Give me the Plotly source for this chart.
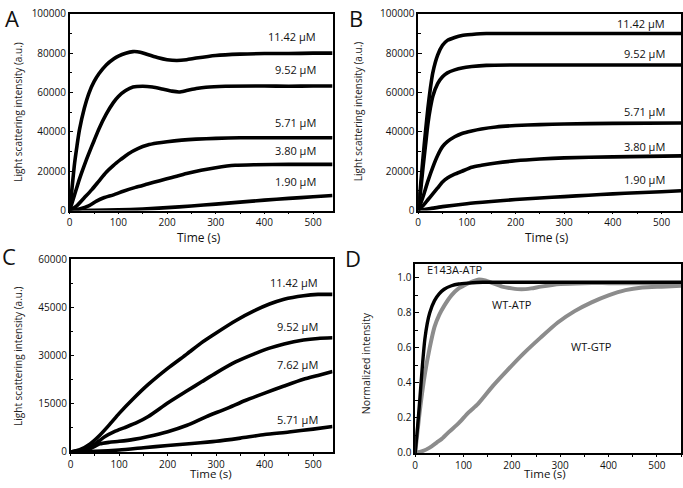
import plotly.graph_objects as go

# ---------------- Data ----------------
# Panel A
a_t_1142 = [0,5,10,15,20,30,40,50,60,75,90,100,115,130,145,160,180,200,220,240,260,300,350,400,450,500,540]
a_v_1142 = [0,12000,24000,33000,41000,52000,60000,65500,69500,74000,77000,78500,80000,80800,80500,79300,77800,76700,76300,76700,77500,78800,79500,79800,79800,80000,80000]
a_t_952 = [0,10,20,30,40,50,60,75,90,100,115,130,150,170,190,210,225,240,260,280,320,400,450,500,540]
a_v_952 = [0,8000,16000,23000,29500,35500,41500,49000,55000,58000,61000,62800,63200,62800,61800,60700,60300,61000,62000,62700,63200,63300,63200,63300,63300]
a_t_571 = [0,15,30,45,60,75,90,105,120,140,160,180,200,230,260,300,350,400,450,500,540]
a_v_571 = [0,2500,6500,10500,15000,19500,23000,26000,28800,31500,33300,34300,35000,35800,36300,36700,37000,37000,37000,37000,37000]
a_t_380 = [0,20,40,55,70,90,110,135,160,185,210,240,270,300,340,380,450,540]
a_v_380 = [0,800,2500,4800,6500,8000,9800,11800,13500,15200,16800,18800,20500,21800,23000,23300,23500,23500]
a_t_190 = [0,50,100,150,200,250,300,350,400,450,500,540]
a_v_190 = [0,200,400,800,1500,2300,3300,4300,5300,6200,7000,7700]

# Panel B
b_t_1142 = [0,5,10,15,20,25,30,40,50,60,75,90,110,140,200,300,400,540]
b_v_1142 = [0,13000,27000,40000,52000,62000,70000,79000,84000,86500,88000,89000,89500,90000,90000,90000,90000,90000]
b_t_952 = [0,5,10,15,20,25,30,40,50,60,75,90,110,140,200,300,540]
b_v_952 = [0,10000,22000,33000,44000,52000,58000,64500,68000,70000,71500,72500,73200,73800,74000,74000,74000]
b_t_571 = [0,10,20,30,40,50,60,75,90,110,130,160,200,250,300,400,540]
b_v_571 = [0,7000,15000,22000,28000,32500,35000,37500,39200,40500,41500,42500,43200,43700,44000,44300,44500]
b_t_380 = [0,10,20,30,40,50,60,75,90,110,130,160,200,250,300,400,540]
b_v_380 = [0,2500,5500,8500,11500,14500,16500,18500,20000,22000,23000,24200,25300,26200,26800,27300,27800]
b_t_190 = [0,25,50,100,150,200,250,300,350,400,450,500,540]
b_v_190 = [0,1000,2000,3500,4600,5600,6400,7100,7800,8500,9100,9600,10100]

# Panel C
c_t_1142 = [0,20,40,60,80,100,130,160,200,240,270,300,340,380,410,440,480,510,540]
c_v_1142 = [0,800,2500,5200,8500,12000,16700,21000,26000,30500,34000,37000,40800,44000,46000,47500,48600,49000,49000]
c_t_952 = [0,20,40,55,70,90,110,135,160,200,240,270,300,340,380,410,440,480,510,540]
c_v_952 = [0,500,1500,3000,4700,6300,7500,9000,11000,15200,19000,21800,24600,28000,30600,32300,33600,34800,35300,35500]
c_t_762 = [0,20,40,60,80,100,130,160,200,240,280,320,360,400,440,480,510,540]
c_v_762 = [0,300,1000,2500,3000,3300,3900,4800,6300,8300,11000,13400,16000,18300,20500,22600,23800,25000]
c_t_571 = [0,50,100,150,200,250,300,350,400,450,500,540]
c_v_571 = [0,200,600,1300,2000,2600,3300,4300,5400,6200,7100,7900]

# Panel D
d_t_e143a = [0,5,10,15,20,25,30,40,50,60,75,90,110,140,200,300,400,550]
d_v_e143a = [0,0.15,0.32,0.5,0.65,0.74,0.8,0.87,0.91,0.935,0.955,0.965,0.97,0.975,0.975,0.975,0.975,0.975]
d_t_wtatp = [0,10,20,30,40,50,60,75,90,100,115,130,145,160,180,200,220,240,260,300,350,400,450,500,550]
d_v_wtatp = [0,0.25,0.45,0.6,0.72,0.79,0.84,0.9,0.94,0.955,0.975,0.99,0.985,0.97,0.95,0.94,0.935,0.94,0.95,0.965,0.97,0.97,0.97,0.97,0.97]
d_t_wtgtp = [0,15,30,45,55,70,90,110,130,160,190,225,260,295,330,365,400,435,470,510,550]
d_v_wtgtp = [0,0.01,0.03,0.06,0.08,0.12,0.17,0.23,0.28,0.38,0.47,0.57,0.66,0.745,0.81,0.86,0.9,0.93,0.945,0.95,0.955]

# Curve labels
a_labels = ["11.42 μM", "9.52 μM", "5.71 μM", "3.80 μM", "1.90 μM"]
a_label_y = [88700, 71900, 44800, 30500, 14800]
b_labels = ["11.42 μM", "9.52 μM", "5.71 μM", "3.80 μM", "1.90 μM"]
b_label_y = [95100, 79800, 50200, 32500, 15800]
c_labels = ["11.42 μM", "9.52 μM", "7.62 μM", "5.71 μM"]
c_label_y = [52600, 38900, 27300, 10100]
d_labels = ["E143A-ATP", "WT-ATP", "WT-GTP"]
d_label_x = [20, 200, 365]
d_label_y = [1.049, 0.847, 0.607]

x_title = "Time (s)"
y_title_ls = "Light scattering intensity (a.u.)"
y_title_norm = "Normalized intensity"

BLACK = "#000000"
GRAY = "#8c8c8c"
FONT = "Open Sans"
LW = 3.6

fig = go.Figure()

def add_curve(t, v, ax, color=BLACK, width=LW):
    fig.add_trace(go.Scatter(x=t, y=v, mode="lines", xaxis="x" + ax, yaxis="y" + ax,
                             line=dict(color=color, width=width, shape="spline", smoothing=0.6),
                             showlegend=False, hoverinfo="skip"))

for t, v in [(a_t_1142, a_v_1142), (a_t_952, a_v_952), (a_t_571, a_v_571), (a_t_380, a_v_380), (a_t_190, a_v_190)]:
    add_curve(t, v, "")
for t, v in [(b_t_1142, b_v_1142), (b_t_952, b_v_952), (b_t_571, b_v_571), (b_t_380, b_v_380), (b_t_190, b_v_190)]:
    add_curve(t, v, "2")
for t, v in [(c_t_1142, c_v_1142), (c_t_952, c_v_952), (c_t_762, c_v_762), (c_t_571, c_v_571)]:
    add_curve(t, v, "3")
add_curve(d_t_wtgtp, d_v_wtgtp, "4", GRAY, 4)
add_curve(d_t_wtatp, d_v_wtatp, "4", GRAY, 4)
add_curve(d_t_e143a, d_v_e143a, "4", BLACK, 3.4)

W, H = 683, 488
def px_x(a, b):
    return [a / W, b / W]
def px_y(top, bottom):
    return [1 - bottom / H, 1 - top / H]

def xax(domain, anchor, rng):
    return dict(domain=domain, anchor=anchor, range=rng, dtick=100, tick0=0,
                ticks="outside", ticklen=2, tickwidth=1.2, tickcolor="black",
                minor=dict(dtick=50, ticks="outside", ticklen=2, tickcolor="black"),
                showline=True, linecolor="black", linewidth=1.5, mirror=True,
                showgrid=False, zeroline=False,
                tickfont=dict(family=FONT, size=10, color="#111"))

def yax(domain, anchor, rng, dtick, minor_dtick, fmt):
    return dict(domain=domain, anchor=anchor, range=rng, dtick=dtick, tick0=0, tickformat=fmt,
                ticks="inside", ticklen=4, tickwidth=1.2, tickcolor="black",
                minor=dict(dtick=minor_dtick, ticks="inside", ticklen=3, tickcolor="black"),
                showline=True, linecolor="black", linewidth=1.5, mirror=True,
                showgrid=False, zeroline=False,
                tickfont=dict(family=FONT, size=10, color="#111"))

fig.update_layout(
    width=W, height=H, margin=dict(l=0, r=0, t=0, b=0),
    paper_bgcolor="white", plot_bgcolor="white",
    xaxis=xax(px_x(67, 331), "y", [0, 540]),
    yaxis=yax(px_y(6, 209), "x", [0, 100000], 20000, 10000, "d"),
    xaxis2=xax(px_x(417, 681), "y2", [0, 540]),
    yaxis2=yax(px_y(6, 209), "x2", [0, 100000], 20000, 10000, "d"),
    xaxis3=xax(px_x(68, 331), "y3", [0, 540]),
    yaxis3=yax(px_y(259, 458), "x3", [0, 60000], 15000, 7500, "d"),
    xaxis4=xax(px_x(414, 681), "y4", [0, 550]),
    yaxis4=yax(px_y(264, 459), "x4", [0, 1.08], 0.2, 0.1, ".1f"),
)

ann = []
def lab(text, x, y, ax, anchor="right"):
    ann.append(dict(text=text, x=x, y=y, xref="x" + ax, yref="y" + ax, showarrow=False,
                    xanchor=anchor, yanchor="middle",
                    font=dict(family=FONT, size=11, color="#111")))
for s, y in zip(a_labels, a_label_y):
    lab(s, 510, y, "")
for s, y in zip(b_labels, b_label_y):
    lab(s, 512, y, "2")
for s, y in zip(c_labels, c_label_y):
    lab(s, 514, y, "3")
lab(d_labels[0], d_label_x[0], d_label_y[0], "4", "left")
lab(d_labels[1], d_label_x[1], d_label_y[1], "4", "center")
lab(d_labels[2], d_label_x[2], d_label_y[2], "4", "center")

def paper_text(text, xp, yp, size, angle=0, color="#111"):
    ann.append(dict(text=text, x=xp / W, y=1 - yp / H, xref="paper", yref="paper",
                    showarrow=False, xanchor="center", yanchor="middle", textangle=angle,
                    font=dict(family=FONT, size=size, color=color)))

# axis titles
for xp, yp in [(197, 237), (546, 237)]:
    paper_text(x_title, xp, yp, 12)
for xp, yp in [(209, 480.5), (544, 480.5)]:
    paper_text(x_title, xp, yp, 11.5)
for xp, yp in [(15, 107), (356, 107), (15, 359)]:
    paper_text(y_title_ls, xp, yp, 10, -90, "#222")
paper_text(y_title_norm, 364, 366, 10.5, -90, "#222")

# panel letters
for letter, xp, yp in [("A", 9, 10), ("B", 355, 10), ("C", 6, 256), ("D", 352, 258)]:
    paper_text(letter, xp, yp, 22)

fig.update_layout(annotations=ann)

fig.write_html("out.html", config={"displayModeBar": False},
               post_script="document.body.style.margin='0';document.body.style.padding='0';")
